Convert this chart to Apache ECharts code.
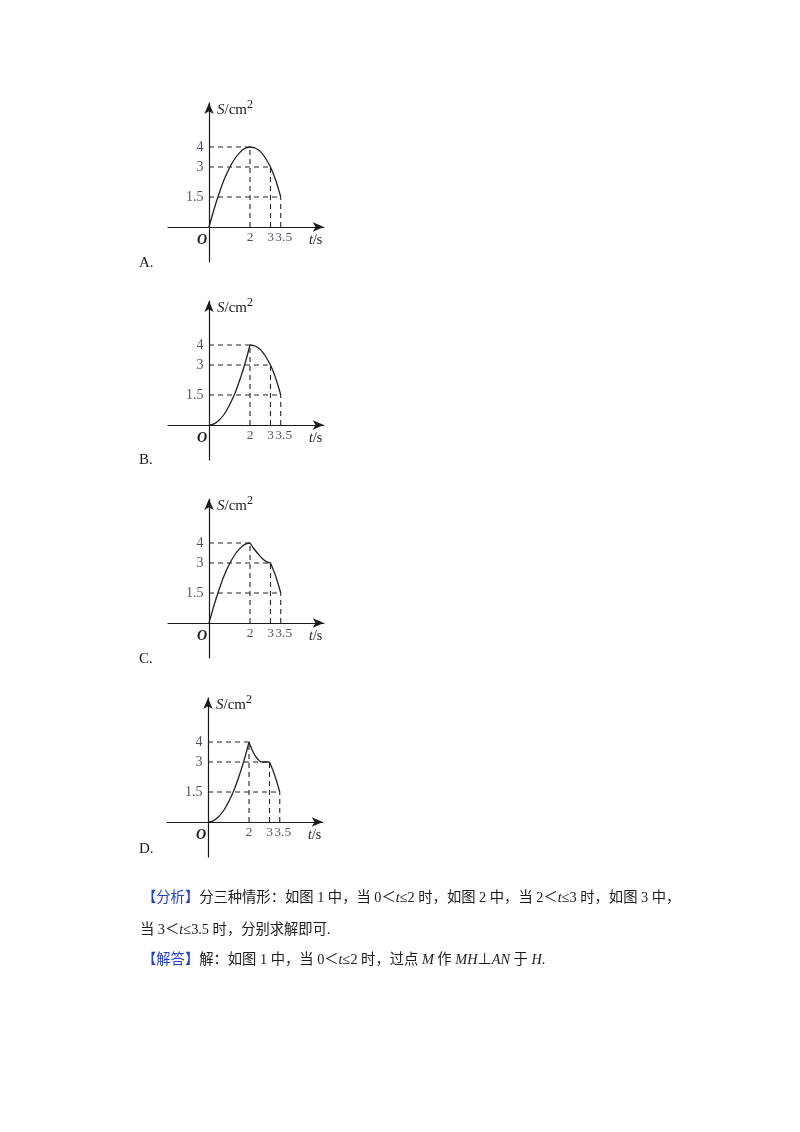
<!DOCTYPE html>
<html><head><meta charset="utf-8">
<script src="https://cdn.jsdelivr.net/npm/echarts@6/dist/echarts.min.js"></script>
<style>html,body{margin:0;padding:0;background:#fff}#c{width:800px;height:1132px}</style>
</head><body><div id="c"></div>
<script>
// ---- data ----
const keyT = [2, 3, 3.5];
const keyS = [4, 3, 1.5];
const xTickLabels = ['2', '3', '3.5'];
const yTickLabels = ['4', '3', '1.5'];
const optionLetters = ['A.', 'B.', 'C.', 'D.'];

const curveA = [
  [[0,0],[0.25,0.9],[0.5,1.7],[0.75,2.4],[1,2.95],[1.25,3.4],[1.5,3.72],[1.75,3.93],[2,4]],
  [[2,4],[2.25,3.95],[2.5,3.78],[2.75,3.45],[3,3]],
  [[3,3],[3.25,2.35],[3.5,1.5]]
];
const curveB = [
  [[0,0],[0.25,0.06],[0.5,0.25],[0.75,0.55],[1,1],[1.25,1.55],[1.5,2.25],[1.75,3.05],[2,4]],
  [[2,4],[2.25,3.95],[2.5,3.78],[2.75,3.45],[3,3]],
  [[3,3],[3.25,2.35],[3.5,1.5]]
];
const curveC = [
  [[0,0],[0.25,0.9],[0.5,1.7],[0.75,2.4],[1,2.95],[1.25,3.4],[1.5,3.72],[1.75,3.93],[2,4]],
  [[2,4],[2.1,3.85],[2.2,3.7],[2.4,3.45],[2.6,3.22],[2.8,3.07],[3,3]],
  [[3,3],[3.25,2.35],[3.5,1.5]]
];
const curveD = [
  [[0,0],[0.25,0.06],[0.5,0.25],[0.75,0.55],[1,1],[1.25,1.55],[1.5,2.25],[1.75,3.05],[2,4]],
  [[2,4],[2.1,3.74],[2.2,3.5],[2.35,3.24],[2.5,3.07],[2.6,3]],
  [[2.6,3],[3,3]],
  [[3,3],[3.25,2.35],[3.5,1.5]]
];
const curves = [curveA, curveB, curveC, curveD];

// ---- layout ----
const layout = [
  {ox:209, oy:227, letterY:263},
  {ox:209, oy:425, letterY:460},
  {ox:209, oy:623, letterY:659},
  {ox:208, oy:822, letterY:849}
];
const SX = 20.5, SY = 20;
const XMIN = -2, XMAX = 5.6, YMIN = -1.75, YMAX = 6.2;
const SERIF = '"Liberation Serif","Times New Roman","Noto Sans CJK SC",serif';
const INK = '#1a1a1a';
const LBL = '#1e2740';

const grid = [], xAxis = [], yAxis = [], series = [], graphic = [];
layout.forEach((L, i) => {
  grid.push({left: L.ox + XMIN*SX, top: L.oy - YMAX*SY, width: (XMAX-XMIN)*SX, height: (YMAX-YMIN)*SY});
  const axLine = {onZero:true, symbol:['none','arrow'], symbolSize:[7,11], lineStyle:{color:INK, width:1.2}};
  xAxis.push({gridIndex:i, type:'value', min:XMIN, max:XMAX, axisLine:axLine, axisTick:{show:false}, axisLabel:{show:false}, splitLine:{show:false}});
  yAxis.push({gridIndex:i, type:'value', min:YMIN, max:YMAX, axisLine:axLine, axisTick:{show:false}, axisLabel:{show:false}, splitLine:{show:false}});
  // dashed guides
  keyT.forEach((t, k) => {
    const s = keyS[k];
    [[[0,s],[t,s]], [[t,0],[t,s]]].forEach(seg => series.push({
      type:'line', xAxisIndex:i, yAxisIndex:i, data:seg, showSymbol:false, silent:true, z:2,
      lineStyle:{color:'#222', width:1.1, type:[5,4]}
    }));
  });
  // curve
  curves[i].forEach(seg => series.push({
    type:'line', xAxisIndex:i, yAxisIndex:i, data:seg, smooth:0.35, showSymbol:false, silent:true, z:3,
    lineStyle:{color:'#222', width:1.3}
  }));
  // tick labels
  series.push({
    type:'scatter', xAxisIndex:i, yAxisIndex:i, symbolSize:1, itemStyle:{color:'rgba(0,0,0,0)'}, silent:true,
    data: keyS.map(s => [0, s]),
    label:{show:true, position:'left', distance:5, formatter:p => yTickLabels[p.dataIndex], color:LBL, fontFamily:SERIF, fontSize:14}
  });
  series.push({
    type:'scatter', xAxisIndex:i, yAxisIndex:i, symbolSize:1, itemStyle:{color:'rgba(0,0,0,0)'}, silent:true,
    data: keyT.map((t, k) => k === keyT.length - 1 ? {value:[t, 0], label:{offset:[3, 0]}} : [t, 0]),
    label:{show:true, position:'bottom', distance:3, formatter:p => xTickLabels[p.dataIndex], color:LBL, fontFamily:SERIF, fontSize:13.5}
  });
  // texts
  graphic.push({type:'text', x:L.ox+8, y:L.oy-117, style:{text:'{i|S}/cm', font:'15px '+SERIF, fill:INK, verticalAlign:'middle', rich:{i:{fontStyle:'italic', fontSize:15, fontFamily:SERIF, fill:INK}}}});
  graphic.push({type:'text', x:L.ox+38, y:L.oy-122, style:{text:'2', font:'12px '+SERIF, fill:INK, verticalAlign:'middle'}});
  graphic.push({type:'text', x:L.ox+100, y:L.oy+13, style:{text:'{i|t}/s', font:'14px '+SERIF, fill:INK, verticalAlign:'middle', rich:{i:{fontStyle:'italic', fontSize:14, fontFamily:SERIF, fill:INK}}}});
  graphic.push({type:'text', x:L.ox-12, y:L.oy+13, style:{text:'O', font:'italic bold 14px '+SERIF, fill:INK, verticalAlign:'middle'}});
  graphic.push({type:'text', x:139, y:L.letterY, style:{text:optionLetters[i], font:'15px '+SERIF, fill:INK, verticalAlign:'middle'}});
});

// analysis paragraph
const FS = 14.3;
const richP = {
  b:{fill:'#1d3fd0', fontSize:FS, fontFamily:SERIF},
  i:{fontStyle:'italic', fontSize:FS, fontFamily:SERIF, fill:INK}
};
const lines = [
  {x:142, y:898, text:'{b|【分析】}分三种情形：如图 1 中，当 0＜{i|t}≤2 时，如图 2 中，当 2＜{i|t}≤3 时，如图 3 中，'},
  {x:140, y:930, text:'当 3＜{i|t}≤3.5 时，分别求解即可.'},
  {x:142, y:960, text:'{b|【解答】}解：如图 1 中，当 0＜{i|t}≤2 时，过点 {i|M} 作 {i|MH}⊥{i|AN} 于 {i|H}.'}
];
lines.forEach(l => graphic.push({type:'text', x:l.x, y:l.y, style:{text:l.text, font:FS+'px '+SERIF, fill:INK, verticalAlign:'middle', rich:richP}}));

const chart = echarts.init(document.getElementById('c'), null, {renderer:'canvas'});
chart.setOption({backgroundColor:'#fff', animation:false, grid, xAxis, yAxis, series, graphic});
</script></body></html>
